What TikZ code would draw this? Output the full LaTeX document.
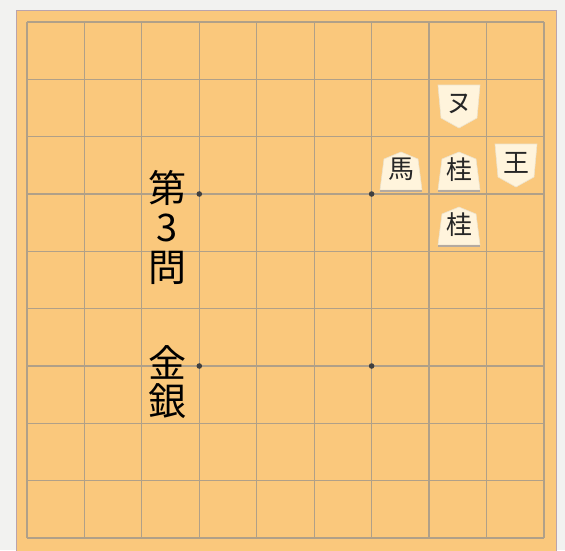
\documentclass[tikz,border=0pt]{standalone}
\usepackage{fontspec}
\newfontfamily\jp{Noto Sans CJK JP}
\usepackage{tikz}
\usetikzlibrary{positioning}
\definecolor{backc}{RGB}{242,242,240}
\definecolor{boardc}{RGB}{250,200,124}
\definecolor{gridc}{RGB}{176,160,136}
\definecolor{edgec}{RGB}{186,164,172}
\definecolor{komac}{RGB}{255,244,220}
\definecolor{shadowc}{RGB}{180,170,160}
\tikzset{
  % board
	cstboard/.style   ={fill=boardc,draw=edgec,line width=1},
	cstgrid/.style    ={draw=gridc,line width=1.2},
	cststar/.style    ={radius=2.8,fill=black!75},
  % piece
	cstkoma/.style    ={fill=komac,draw=komac!85!gray,line width=0.6},
	cstshadow/.style  ={draw=shadowc,line width=2},
	cstpiece/.style   ={font=\jp\fontsize{26}{26}\selectfont,inner sep=0,text=black!85},
  % text
	csttitle/.style   ={font=\jp\fontsize{38}{38}\selectfont,inner sep=0,text=black}
}
% sente piece, point up
\newcommand\sente[1]{%
	\begin{scope}[shift={(#1)}]
		\filldraw[cstkoma] (-21,19)--(-17,-12)--(0,-19)--(17,-12)--(21,19)--cycle;
		\draw[cstshadow] (-21,20)--(21,20);
	\end{scope}}
% gote piece, point down
\newcommand\gote[1]{%
	\begin{scope}[shift={(#1)}]
		\filldraw[cstkoma] (-21,-21)--(-18,12)--(0,22)--(18,12)--(21,-21)--cycle;
	\end{scope}}
\begin{document}
\begin{tikzpicture}[x=1pt,y=-1pt]
	\useasboundingbox[fill=backc] (0,0) rectangle (565,550);
	\filldraw[cstboard] (16,10) rectangle (556,552);
	% grid
	\foreach \i in {0,...,9} {
		\draw[cstgrid] ({27+\i*57.44},22)--({27+\i*57.44},538);
		\draw[cstgrid] (27,{22+\i*57.33})--(544,{22+\i*57.33});
	}
	% stars
	\foreach \sx/\sy in {199.3/194, 371.6/194, 199.3/366, 371.6/366}
		\fill[cststar] (\sx,\sy) circle;
	% pieces
	\gote{459,106}
	\node[cstpiece] (nu) at (459,104) {ヌ};
	\sente{401,171}
	\node[cstpiece] (uma) at (401,169) {馬};
	\sente{459,171}
	\node[cstpiece] (kei1) at (459,170) {桂};
	\gote{516,165}
	\node[cstpiece] (ou) at (516,163) {王};
	\sente{459,226}
	\node[cstpiece] (kei2) at (459,225) {桂};
	% title
	\node[csttitle] (dai) at (167,188) {第};
	\node[csttitle] (san) at (167,228) {3};
	\node[csttitle] (mon) at (167,268) {問};
	\node[csttitle] (kin) at (167,362) {金};
	\node[csttitle] (gin) at (167,401) {銀};
\end{tikzpicture}
\end{document}
